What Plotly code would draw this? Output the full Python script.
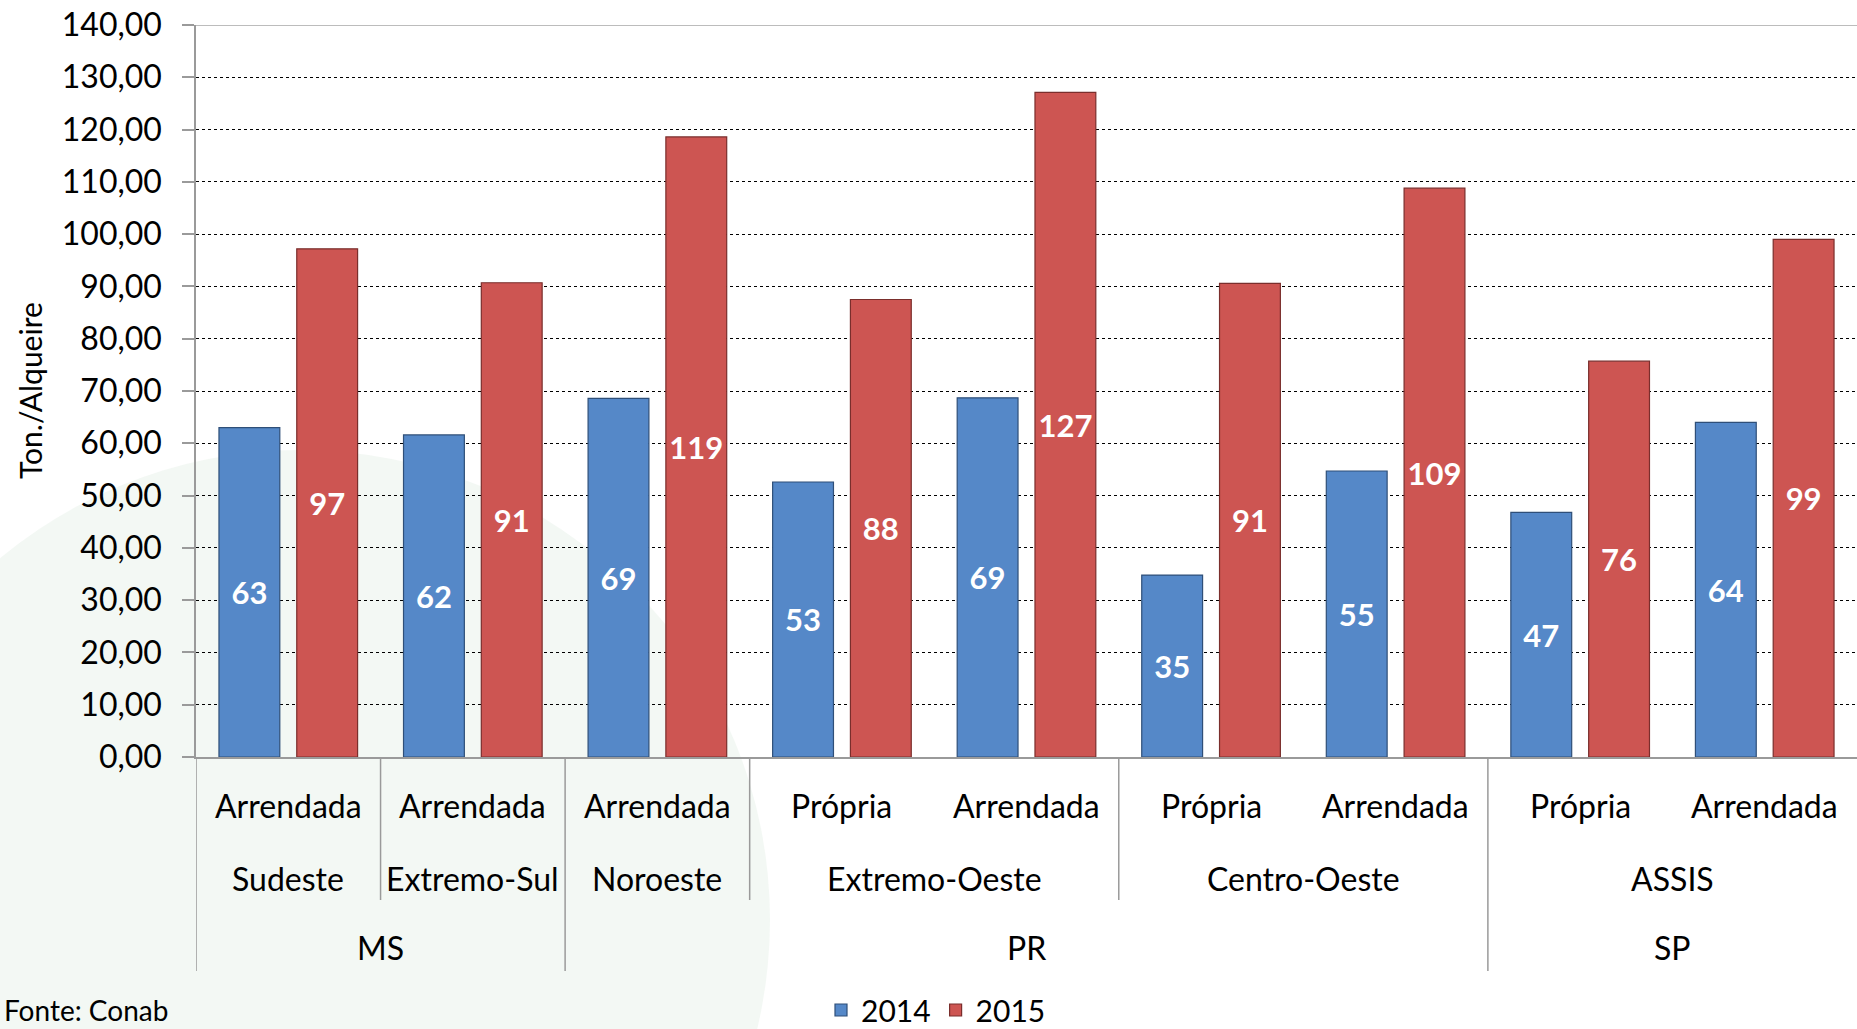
import plotly.graph_objects as go

# ---- data ----
subcats = ["Arrendada", "Arrendada", "Arrendada", "Própria", "Arrendada",
           "Própria", "Arrendada", "Própria", "Arrendada"]
regions = ["Sudeste", "Extremo-Sul", "Noroeste", "Extremo-Oeste", "Extremo-Oeste",
           "Centro-Oeste", "Centro-Oeste", "ASSIS", "ASSIS"]
states = ["MS", "MS", "PR", "PR", "PR", "PR", "PR", "SP", "SP"]
v2014 = [63.0, 61.6, 68.6, 52.6, 68.7, 34.8, 54.7, 46.8, 64.0]
v2015 = [97.2, 90.7, 118.6, 87.5, 127.1, 90.6, 108.8, 75.7, 99.0]
y_ticks = [0, 10, 20, 30, 40, 50, 60, 70, 80, 90, 100, 110, 120, 130, 140]

FONT = "Lato"
W, H = 1857, 1029
ML, MT = 196, 25
ZERO = 757                   # figure row of y=0
MB = H - ZERO
plot_h = H - MT - MB
plot_w = W - ML


def py(s):
    """pixel row -> paper y"""
    return (ZERO - s) / plot_h


def px(s):
    """pixel column -> paper x"""
    return (s - ML) / plot_w


xs = list(range(len(subcats)))

fig = go.Figure()
fig.add_trace(go.Bar(
    x=xs, y=v2014, name="2014",
    marker=dict(color="#5588C8", line=dict(color="#2F4F78", width=1.2)),
    texttemplate="%{y:.0f}", textposition="inside", insidetextanchor="middle",
    textfont=dict(family=FONT, size=31, color="white", weight="bold"),
    constraintext="none",
))
fig.add_trace(go.Bar(
    x=xs, y=v2015, name="2015",
    marker=dict(color="#CD5552", line=dict(color="#7A2E2C", width=1.2)),
    texttemplate="%{y:.0f}", textposition="inside", insidetextanchor="middle",
    textfont=dict(family=FONT, size=31, color="white", weight="bold"),
    constraintext="none",
))

annotations = []
shapes = []

# faint background watermark (pale green sphere)
shapes.append(dict(type="circle", xref="paper", yref="paper", layer="below",
                   x0=px(-170), x1=px(770), y0=py(1390), y1=py(450),
                   fillcolor="rgba(200,222,204,0.22)", line=dict(width=0)))

# level 1 labels
for i, s in enumerate(subcats):
    annotations.append(dict(x=i, y=py(805), xref="x", yref="paper", text=s,
                            showarrow=False, yanchor="middle",
                            font=dict(family=FONT, size=32, color="black")))


def groups(labels):
    out = []
    start = 0
    for i in range(1, len(labels) + 1):
        if i == len(labels) or labels[i] != labels[start]:
            out.append((labels[start], start, i - 1))
            start = i
    return out


for name, a, b in groups(regions):
    annotations.append(dict(x=(a + b) / 2, y=py(878), xref="x", yref="paper", text=name,
                            showarrow=False, yanchor="middle",
                            font=dict(family=FONT, size=32, color="black")))
state_groups = groups(states)
for name, a, b in state_groups:
    annotations.append(dict(x=(a + b) / 2, y=py(947), xref="x", yref="paper", text=name,
                            showarrow=False, yanchor="middle",
                            font=dict(family=FONT, size=32, color="black")))

state_bounds = {a - 0.5 for _, a, _ in state_groups}
region_bounds = {a - 0.5 for _, a, _ in groups(regions)}
for xb in sorted(region_bounds | state_bounds):
    bottom = py(971) if xb in state_bounds else py(900)
    shapes.append(dict(type="line", xref="x", yref="paper", x0=xb, x1=xb,
                       y0=bottom, y1=0, line=dict(color="#9A9A9A", width=1.5)))

# top border line at 140
shapes.append(dict(type="line", xref="paper", yref="y", x0=0, x1=1, y0=140, y1=140,
                   line=dict(color="#A6A6A6", width=1.5)))

# y title
annotations.append(dict(x=px(30), y=py(391), xref="paper", yref="paper",
                        text="Ton./Alqueire", textangle=-90, showarrow=False,
                        xanchor="center", yanchor="middle",
                        font=dict(family=FONT, size=30, color="black")))
# source note
annotations.append(dict(x=px(2), y=py(1010), xref="paper", yref="paper",
                        text="Fonte: Conab", showarrow=False, xanchor="left", yanchor="middle",
                        font=dict(family=FONT, size=28, color="black")))

fig.update_layout(
    width=W, height=H,
    margin=dict(l=ML, r=0, t=MT, b=MB, autoexpand=False),
    paper_bgcolor="white", plot_bgcolor="rgba(0,0,0,0)",
    barmode="group", bargap=0.157, bargroupgap=0.218,
    separators=",.",
    font=dict(family=FONT, size=32, color="black"),
    showlegend=True,
    legend=dict(orientation="h", x=px(936), xanchor="center",
                y=py(1010), yanchor="middle", font=dict(family=FONT, size=30),
                bgcolor="rgba(0,0,0,0)", tracegroupgap=0),
    annotations=annotations,
    shapes=shapes,
)
fig.update_xaxes(range=[-0.5, len(subcats) - 0.5], showticklabels=False, ticks="",
                 showgrid=False, showline=True, linecolor="#9A9A9A", linewidth=1.5,
                 zeroline=False, fixedrange=True)
fig.update_yaxes(range=[0, 140], tickvals=y_ticks, tickformat=".2f",
                 showgrid=True, gridcolor="black", gridwidth=1, griddash="dot",
                 ticks="outside", ticklen=12, tickcolor="#9A9A9A", tickwidth=1.5,
                 ticklabelstandoff=14, ticklabeloverflow="allow",
                 showline=True, linecolor="#9A9A9A", linewidth=1.5,
                 zeroline=False, tickfont=dict(family=FONT, size=32, color="black"),
                 fixedrange=True)

fig.write_html(
    "out.html",
    config={"displayModeBar": False},
    post_script="document.body.style.margin='0';document.body.style.overflow='hidden';",
)
